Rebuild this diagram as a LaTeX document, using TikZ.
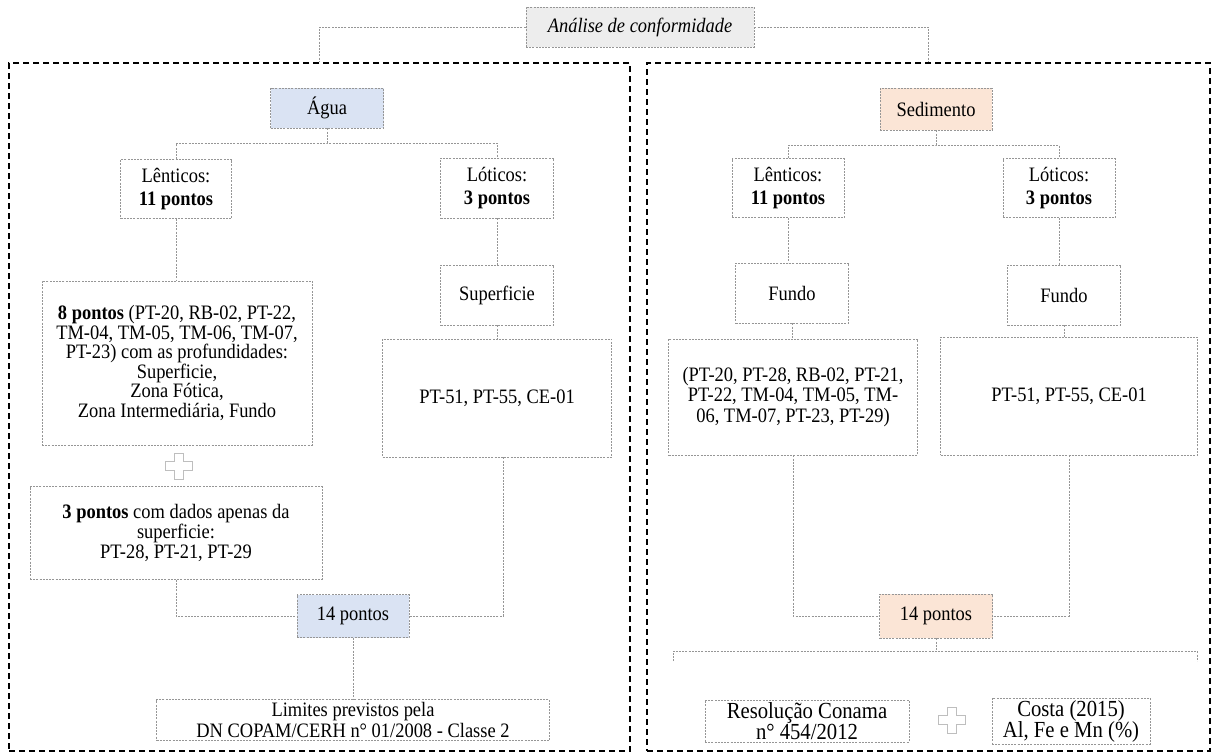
\documentclass[tikz,border=0pt]{standalone}
\usepackage{fontspec}
\setmainfont[FakeStretch=0.9]{Liberation Serif}
\definecolor{aguablue}{RGB}{218,227,243}
\definecolor{sedpeach}{RGB}{251,229,214}
\definecolor{titlegray}{RGB}{237,237,237}
\definecolor{linegray}{RGB}{150,150,150}
\definecolor{plusgray}{RGB}{190,190,190}
\begin{document}
\begin{tikzpicture}[x=1pt,y=-1pt,
  box/.style={draw=linegray, line width=0.7pt, dash pattern=on 2pt off 1.2pt, align=center, inner sep=2pt, font=\fontsize{20.5}{20.5}\selectfont},
  link/.style={draw=linegray, line width=0.7pt, dash pattern=on 2pt off 1.2pt},
  frame/.style={draw=black, line width=1.5pt, dash pattern=on 6pt off 4pt, inner sep=0pt},
  plus/.style={draw=plusgray, line width=0.7pt}
]
\useasboundingbox (0,0) rectangle (1214,753);

% frames
\node[frame, minimum width=621pt, minimum height=688pt] (fl) at (319.5,407) {};
\node[frame, minimum width=563pt, minimum height=688pt] (fr) at (928.5,407) {};

% title
\node[box, fill=titlegray, minimum width=228pt, minimum height=40pt, font=\fontsize{20.5}{20.5}\selectfont\itshape] (title) at (640,27) {Análise de conformidade};
\draw[link] (title.west) -| (fl.north);
\draw[link] (title.east) -| (fr.north);

% ---------- left panel: Agua ----------
\node[box, fill=aguablue, minimum width=113pt, minimum height=40pt] (agua) at (327,108) {Água};
\node[box, minimum width=111pt, minimum height=59pt, font=\fontsize{20.5}{23}\selectfont] (lenL) at (176,189) {Lênticos:\\\textbf{11 pontos}};
\node[box, minimum width=113pt, minimum height=60pt, font=\fontsize{20.5}{23}\selectfont] (lotL) at (497,188) {Lóticos:\\\textbf{3 pontos}};
\node[box, minimum width=270pt, minimum height=164pt, font=\fontsize{20.5}{19.5}\selectfont] (bigL) at (177,363) {\textbf{8 pontos} (PT-20, RB-02, PT-22,\\TM-04, TM-05, TM-06, TM-07,\\PT-23) com as profundidades:\\Superficie,\\Zona Fótica,\\Zona Intermediária, Fundo};
\node[box, minimum width=113pt, minimum height=60pt] (supL) at (497,295) {Superficie};
\node[box, minimum width=229pt, minimum height=118pt] (ptL) at (497,398) {PT-51, PT-55, CE-01};
\node[box, minimum width=292pt, minimum height=93pt, font=\fontsize{20.5}{20}\selectfont] (tresL) at (176,533) {\textbf{3 pontos} com dados apenas da\\superficie:\\PT-28, PT-21, PT-29};
\node[box, fill=aguablue, minimum width=112pt, minimum height=43pt] (fourL) at (353,616) {14 pontos};
\node[box, minimum width=393pt, minimum height=41pt] (limL) at (353,720) {Limites previstos pela\\DN COPAM/CERH n° 01/2008 - Classe 2};

\coordinate (jL) at (0,143);
\draw[link] (agua.south) -- (agua.south |- jL);
\draw[link] (lenL.north) |- (jL -| agua.south) -| (lotL.north);
\draw[link] (lenL.south) -- (lenL.south |- bigL.north);
\draw[link] (lotL.south) -- (supL.north);
\draw[link] (supL.south) -- (ptL.north);
\draw[link] (tresL.south) |- (fourL.west);
\draw[link] ([xshift=6pt]ptL.south) |- (fourL.east);
\draw[link] (fourL.south) -- (limL.north);

\coordinate (pl) at (179,466);
\draw[plus] (pl) ++(-4.5,-13) -- ++(9,0) -- ++(0,8.5) -- ++(9,0) -- ++(0,9) -- ++(-9,0) -- ++(0,8.5) -- ++(-9,0) -- ++(0,-8.5) -- ++(-9,0) -- ++(0,-9) -- ++(9,0) -- cycle;

% ---------- right panel: Sedimento ----------
\node[box, fill=sedpeach, minimum width=112pt, minimum height=42pt] (sed) at (936,109) {Sedimento};
\node[box, minimum width=112pt, minimum height=59pt, font=\fontsize{20.5}{23}\selectfont] (lenR) at (788,188) {Lênticos:\\\textbf{11 pontos}};
\node[box, minimum width=112pt, minimum height=59pt, font=\fontsize{20.5}{23}\selectfont] (lotR) at (1059,188) {Lóticos:\\\textbf{3 pontos}};
\node[box, minimum width=113pt, minimum height=60pt] (fundoL) at (792,293) {Fundo};
\node[box, minimum width=113pt, minimum height=60pt] (fundoR) at (1064,295) {Fundo};
\node[box, minimum width=249pt, minimum height=116pt] (ptlist) at (793,397) {(PT-20, PT-28, RB-02, PT-21,\\PT-22, TM-04, TM-05, TM-\\06, TM-07, PT-23, PT-29)};
\node[box, minimum width=257pt, minimum height=118pt] (ptR) at (1069,396) {PT-51, PT-55, CE-01};
\node[box, fill=sedpeach, minimum width=113pt, minimum height=44pt] (fourR) at (936,616) {14 pontos};
\node[box, minimum width=204pt, minimum height=42pt, font=\fontsize{23}{21}\selectfont] (res) at (807,721) {Resolução Conama\\n° 454/2012};
\node[box, minimum width=158pt, minimum height=42pt, font=\fontsize{23}{21}\selectfont] (costa) at (1071,721) {Costa (2015)\\Al, Fe e Mn (\%)};

\coordinate (jR) at (0,145);
\draw[link] (sed.south) -- (sed.south |- jR);
\draw[link] (lenR.north) |- (jR -| sed.south) -| (lotR.north);
\draw[link] (lenR.south) -- (lenR.south |- fundoL.north);
\draw[link] (lotR.south) -- (lotR.south |- fundoR.north);
\draw[link] (fundoL.south) -- (fundoL.south |- ptlist.north);
\draw[link] (fundoR.south) -- (fundoR.south |- ptR.north);
\draw[link] (ptlist.south) |- (fourR.west);
\draw[link] (ptR.south) |- (fourR.east);

\coordinate (bl) at (673,661);
\coordinate (br) at (1197,661);
\coordinate (bt) at (0,651);
\draw[link] (fourR.south) -- (fourR.south |- bt);
\draw[link] (bl) -- (bl |- bt) -- (br |- bt) -- (br);

\coordinate (pr) at (952,720);
\draw[plus] (pr) ++(-4.5,-13) -- ++(9,0) -- ++(0,8.5) -- ++(9,0) -- ++(0,9) -- ++(-9,0) -- ++(0,8.5) -- ++(-9,0) -- ++(0,-8.5) -- ++(-9,0) -- ++(0,-9) -- ++(9,0) -- cycle;
\end{tikzpicture}
\end{document}
